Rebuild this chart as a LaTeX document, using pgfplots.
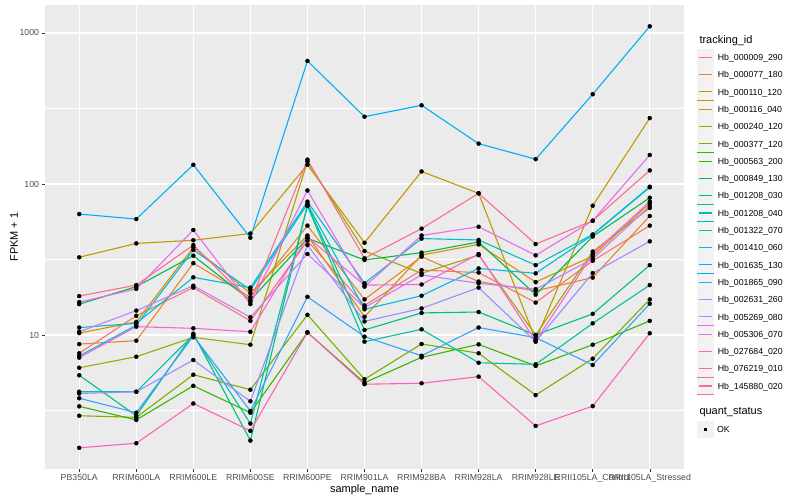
\documentclass[border=0pt]{standalone}
\usepackage{fontspec}
\setmainfont{Liberation Sans}
\usepackage{pgfplots}
\usepackage{pgfplotstable}
\pgfplotsset{compat=1.18}

\definecolor{c1}{HTML}{F8766D}
\definecolor{c2}{HTML}{EA8331}
\definecolor{c3}{HTML}{D89000}
\definecolor{c4}{HTML}{C09B00}
\definecolor{c5}{HTML}{A3A500}
\definecolor{c6}{HTML}{7CAE00}
\definecolor{c7}{HTML}{39B600}
\definecolor{c8}{HTML}{00BB4E}
\definecolor{c9}{HTML}{00BF7D}
\definecolor{c10}{HTML}{00C1A3}
\definecolor{c11}{HTML}{00BFC4}
\definecolor{c12}{HTML}{00BAE0}
\definecolor{c13}{HTML}{00B0F6}
\definecolor{c14}{HTML}{35A2FF}
\definecolor{c15}{HTML}{9590FF}
\definecolor{c16}{HTML}{C77CFF}
\definecolor{c17}{HTML}{E76BF3}
\definecolor{c18}{HTML}{FA62DB}
\definecolor{c19}{HTML}{FF62BC}
\definecolor{c20}{HTML}{FF6C91}
\definecolor{panelbg}{HTML}{EBEBEB}
\definecolor{legkey}{HTML}{F2F2F2}
\definecolor{ticktxt}{HTML}{4D4D4D}
\definecolor{tickcol}{HTML}{333333}

% FPKM + 1, one row per sample, one column per tracking_id
\pgfplotstableread{
x  s1    s2    s3    s4    s5    s6    s7    s8    s9    s10   s11   s12   s13   s14   s15   s16   s17   s18   s19   s20
1  7.57  8.7   10.3  32.7  6.07  2.92  3.37  16.0  5.41  4.21  11.2  7.26  63.2  3.81  4.10  10.5  16.5  7.08  1.79  18.1
2  13.4  9.17  12.2  40.4  7.18  2.85  2.74  20.9  2.92  4.21  11.95 11.6  58.6  3.06  4.21  14.5  20.2  11.35 1.92  21.4
3  20.6  29.9  38.1  42.4  9.65  5.46  4.61  33.5  10.2  10.0  24.1  36.6  134   9.85  6.83  21.2  49.6  11.07 3.52  39.4
4  12.4  17.8  18.9  47.0  8.62  4.34  3.06  17.0  2.0   2.59  20.6  19.9  44.1  3.14  3.64  13.1  16.0  10.5  2.32  16.6
5  42.1  53.0  45.6  134   141   13.6  10.4  43.7  72.5  71.5  76.4  73.7  653   17.9  39.4  34.4  90.6  44.5  10.4  145
6  15.7  17.2  13.2  40.8  36.0  5.09  4.83  31.4  10.8  9.03  22.0  14.8  279   9.75  12.3  15.2  20.9  21.4  4.72  32.2
7  26.9  33.0  33.8  121   25.6  8.72  7.11  35.1  14.0  10.9  43.5  18.2  332   7.29  15.0  25.0  45.6  21.6  4.79  50.6
8  25.9  22.6  39.8  86.7  33.8  7.57  8.67  41.3  14.2  6.55  42.6  27.6  185   11.2  20.6  22.0  52.1  34.4  5.30  86.7
9  16.4  19.6  22.4  9.27  10.0  4.0   6.24  18.5  10.0  6.39  29.0  25.6  146   9.6   9.03  20.1  33.7  9.1   2.50  40.0
10 31.0  24.0  33.3  71.8  35.7  6.97  8.62  44.9  13.8  11.95 46.3  46.0  393   6.33  25.7  32.0  57.1  34.4  3.38  57.1
11 53.0  61.4  74.5  273   69.4  17.2  12.4  81.1  29.0  21.4  95.9  95.0  1107  16.1  41.7  71.5  155.6 76.6  10.27 123
}\data

\pgfplotsset{
    gglegend/.style={
        legend style={draw=none, fill=none, anchor=north west,
            inner sep=0pt, outer sep=0pt, row sep=0pt, column sep=3.7bp,
            nodes={inner sep=0pt, outer sep=0pt, font=\fontsize{8.8}{10}\selectfont},
            cells={anchor=base west}},
    },
}

\begin{document}
\begin{tikzpicture}
\useasboundingbox (-45bp,-31bp) rectangle (755bp,469bp);
\begin{axis}[
    at={(0,0)}, anchor=south west,
    scale only axis, width=639bp, height=464bp,
    ymode=log,
    xmin=0.4, xmax=11.6, ymin=1.296, ymax=1532,
    axis background/.style={fill=panelbg},
    axis line style={draw=none},
    xtick={1,...,11},
    xticklabels={PB350LA, RRIM600LA, RRIM600LE, RRIM600SE, RRIM600PE, RRIM901LA, RRIM928BA, RRIM928LA, RRIM928LE, RRII105LA\_Control, RRII105LA\_Stressed},
    ytick={10,100,1000}, yticklabels={10,100,1000},
    minor ytick={3.1623,31.623,316.23},
    xtick pos=bottom, ytick pos=left,
    tick align=outside, major tick length=2.75bp, minor tick length=0pt,
    tick style={color=tickcol, line width=0.5bp},
    grid=both,
    major grid style={white, line width=1.07bp},
    minor grid style={white, line width=0.53bp},
    ticklabel style={font=\fontsize{8.8}{10}\selectfont, text=ticktxt, inner sep=0pt},
    xticklabel style={yshift=-2.5bp},
    yticklabel style={xshift=-3bp},
    gglegend,
    legend style={at={(1.02034,0.90593)}},
    legend image code/.code={
        \path (0bp,-4.9bp) rectangle (16bp,11.3bp);
        \fill[legkey] (0bp,-4.7bp) rectangle (16bp,11.1bp);
        \draw[#1] (1.6bp,3.2bp) -- (14.4bp,3.2bp);
    },
]
\pgfplotsinvokeforeach{1,...,20}{
    \addplot[color=c#1, line width=1.1bp] table[x=x, y=s#1] {\data};
}
\pgfplotsinvokeforeach{1,...,20}{
    \addplot[only marks, mark=*, mark size=2bp, black, forget plot] table[x=x, y=s#1] {\data};
}
\legend{Hb\_000009\_290, Hb\_000077\_180, Hb\_000110\_120, Hb\_000116\_040, Hb\_000240\_120,
    Hb\_000377\_120, Hb\_000563\_200, Hb\_000849\_130, Hb\_001208\_030, Hb\_001208\_040,
    Hb\_001322\_070, Hb\_001410\_060, Hb\_001635\_130, Hb\_001865\_090, Hb\_002631\_260,
    Hb\_005269\_080, Hb\_005306\_070, Hb\_027684\_020, Hb\_076219\_010, Hb\_145880\_020}
\end{axis}

% second legend: quant_status
\begin{axis}[
    at={(0,0)}, anchor=south west,
    scale only axis, width=639bp, height=464bp,
    hide axis, xmin=0, xmax=1, ymin=0, ymax=1,
    gglegend,
    legend style={at={(1.02034,0.10345)}},
    legend image code/.code={
        \path (0bp,-4.9bp) rectangle (16bp,11.3bp);
        \fill[legkey] (0bp,-4.7bp) rectangle (16bp,11.1bp);
        \draw[#1] plot coordinates {(8bp,3.2bp)};
    },
]
\addlegendimage{only marks, mark=square*, mark size=1.2bp, black}
\addlegendentry{OK}
\end{axis}

\node[anchor=west, font=\fontsize{11}{13}\selectfont] at (651bp,428.3bp) {tracking\_id};
\node[anchor=west, font=\fontsize{11}{13}\selectfont] at (651bp,57bp) {quant\_status};
\node[font=\fontsize{11}{13}\selectfont] at (319.5bp,-21bp) {sample\_name};
\node[rotate=90, font=\fontsize{11}{13}\selectfont] at (-31bp,232bp) {FPKM + 1};
\end{tikzpicture}
\end{document}
